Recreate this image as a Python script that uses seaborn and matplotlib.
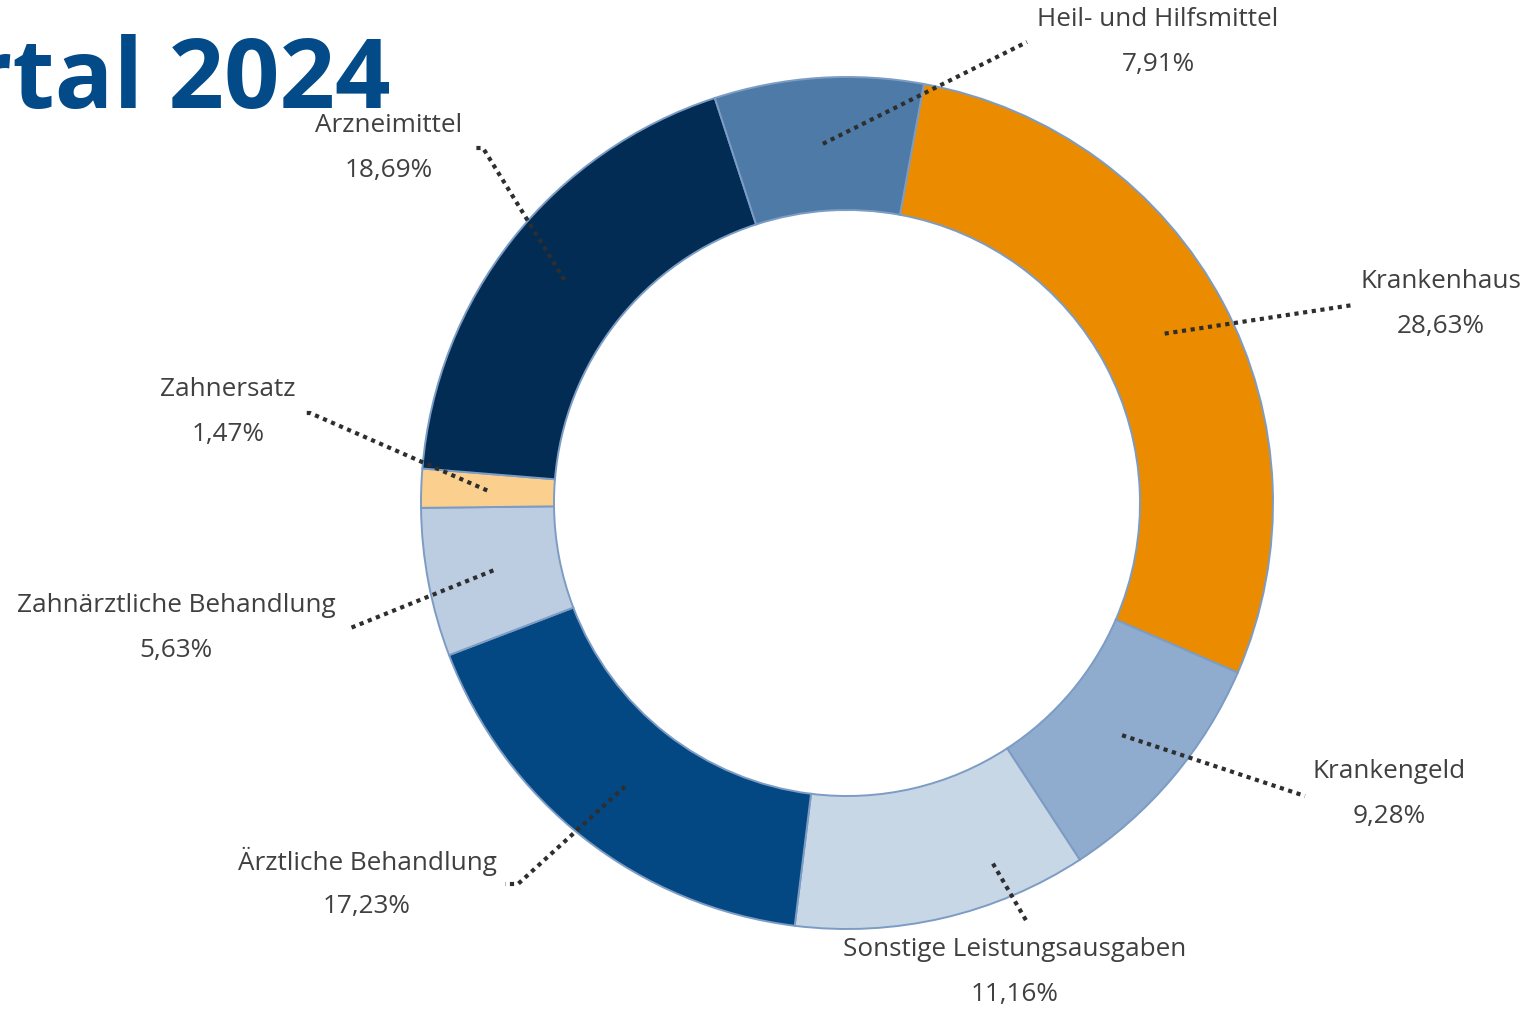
import numpy as np
import seaborn as sns
import matplotlib
matplotlib.use("Agg")
import matplotlib.pyplot as plt

# ---------- data ----------
categories = ["Krankenhaus", "Krankengeld", "Sonstige Leistungsausgaben",
              "Ärztliche Behandlung", "Zahnärztliche Behandlung", "Zahnersatz",
              "Arzneimittel", "Heil- und Hilfsmittel"]
shares = [28.63, 9.28, 11.16, 17.23, 5.63, 1.47, 18.69, 7.91]
colors = ["#EB8C00", "#8FABCE", "#C8D7E6", "#034783",
          "#BCCDE1", "#FBD08F", "#022C53", "#4D7AA7"]
title_text = "Quartal 2024"

# ---------- layout (pixel coords, y from top) ----------
W, H = 1527, 1010
CENTER = (847, 503)
R_OUT, R_IN = 426, 293
START = 79.6
label_pos = [(1441, 282), (1389, 771), (1015, 950), (367, 861),
             (176, 606), (228, 390), (389, 125), (1158, 19)]
leader_end = [(1353, 305), (1305, 796), (1027, 922), (518, 884),
              (348, 629), (310, 413), (483, 148), (1027, 42)]
leader_tail = [0, 0, 0, -13, 0, -7, -10, 0]
anchor_nudge = [0, 0, 9, 0, 0, 0, 0, 0]   # deg, where the leader starts off-centre
anchor_r = [360, 360, 389, 360, 360, 360, 360, 360]

sns.set_theme(style="white")
plt.rcParams["font.family"] = ["Open Sans", "DejaVu Sans"]

fig = plt.figure(figsize=(W / 100, H / 100), dpi=100)
ax = fig.add_axes([0, 0, 1, 1])

cx, cy = CENTER[0], H - CENTER[1]
wedges, _ = ax.pie(shares, colors=colors, startangle=START, counterclock=False,
                   radius=R_OUT, center=(cx, cy),
                   wedgeprops=dict(width=R_OUT - R_IN, edgecolor="#7C9CC4",
                                   linewidth=1.4))

ax.set_xlim(0, W)
ax.set_ylim(0, H)
ax.set_aspect("equal")
ax.axis("off")

# leader lines + labels
cum = np.cumsum([0] + shares[:-1])
for i, (name, v) in enumerate(zip(categories, shares)):
    ang = np.deg2rad(START - 3.6 * (cum[i] + v / 2) + anchor_nudge[i])
    ax_, ay_ = cx + anchor_r[i] * np.cos(ang), cy + anchor_r[i] * np.sin(ang)
    ex, ey = leader_end[i][0], H - leader_end[i][1]
    xs, ys = [ax_, ex], [ay_, ey]
    if leader_tail[i]:
        xs.append(ex + leader_tail[i])
        ys.append(ey)
    ax.plot(xs, ys, color="#2E2E2E", lw=3.0, linestyle=(0, (1.0, 1.1)),
            solid_capstyle="butt", dash_capstyle="butt", zorder=5)

    lx, ly = label_pos[i][0], H - label_pos[i][1]
    pct = f"{v:.2f}".replace(".", ",") + "%"
    ax.text(lx, ly, name, ha="center", va="center", fontsize=18.8, color="#404040")
    ax.text(lx, ly - 45, pct, ha="center", va="center", fontsize=18.8, color="#404040")

ax.text(390, H - 108, title_text, ha="right", va="baseline", fontsize=70,
        fontweight="bold", color="#034A89")

fig.savefig("out.png", dpi=100)
